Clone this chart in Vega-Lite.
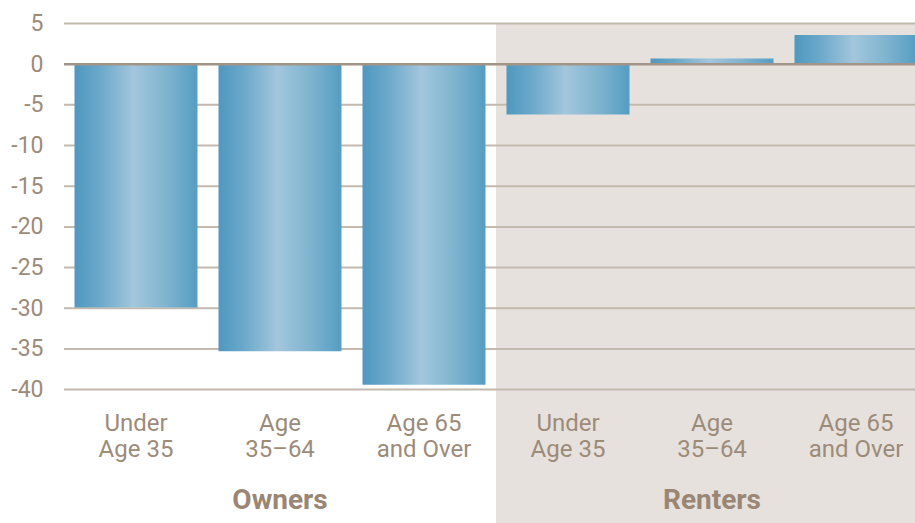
{
  "$schema": "https://vega.github.io/schema/vega-lite/v6.json",
  "width": 851,
  "height": 499.5,
  "autosize": {"type": "none"},
  "padding": {"left": 64, "top": 23.5, "right": 0, "bottom": 0},
  "background": "white",
  "config": {
    "view": {"stroke": null},
    "font": "Roboto"
  },
  "layer": [
    {
      "data": {"values": [{"tenure": "Owners"}, {"tenure": "Renters"}]},
      "mark": {"type": "rect", "clip": true},
      "encoding": {
        "x": {
          "field": "tenure",
          "type": "nominal",
          "sort": null,
          "scale": {"range": [0, 864], "paddingInner": 0, "paddingOuter": 0},
          "axis": {
            "orient": "bottom",
            "title": null,
            "domain": false,
            "ticks": false,
            "zindex": 1,
            "offset": -15,
            "labelPadding": 0,
            "labelBaseline": "alphabetic",
            "labelAngle": 0,
            "labelFontSize": 28,
            "labelFontWeight": "bold",
            "labelColor": "#9a8675",
            "labelFont": "Roboto"
          }
        },
        "y": {"datum": 5, "type": "quantitative"},
        "y2": {"datum": -56.4},
        "color": {
          "condition": {"test": "datum.tenure === 'Renters'", "value": "#e6e1dc"},
          "value": "#ffffff"
        }
      }
    },
    {
      "data": {"values": [{"v": 5}, {"v": -5}, {"v": -10}, {"v": -15}, {"v": -20}, {"v": -25}, {"v": -30}, {"v": -35}, {"v": -40}]},
      "mark": {"type": "rule", "strokeWidth": 2, "color": "#c3b9ae"},
      "encoding": {
        "y": {"field": "v", "type": "quantitative"}
      }
    },
    {
      "data": {
        "values": [
          {"tenure": "Owners", "age": "Under Age 35", "change": -29.9},
          {"tenure": "Owners", "age": "Age 35–64", "change": -35.3},
          {"tenure": "Owners", "age": "Age 65 and Over", "change": -39.4},
          {"tenure": "Renters", "age": "Under Age 35", "change": -6.2},
          {"tenure": "Renters", "age": "Age 35–64", "change": 0.7},
          {"tenure": "Renters", "age": "Age 65 and Over", "change": 3.6}
        ]
      },
      "transform": [{"calculate": "datum.tenure + ' ' + datum.age", "as": "key"}],
      "mark": {
        "type": "bar",
        "clip": true,
        "width": {"band": 0.854},
        "color": {
          "gradient": "linear",
          "x1": 0, "x2": 1, "y1": 0, "y2": 0,
          "stops": [
            {"offset": 0, "color": "#4f98bf"},
            {"offset": 0.2, "color": "#6aa8ca"},
            {"offset": 0.48, "color": "#a3c6dc"},
            {"offset": 0.75, "color": "#7fb3d0"},
            {"offset": 1, "color": "#559dc2"}
          ]
        }
      },
      "encoding": {
        "x": {
          "field": "key",
          "type": "nominal",
          "sort": null,
          "scale": {"range": [0, 864], "paddingInner": 0, "paddingOuter": 0},
          "axis": {
            "orient": "bottom",
            "title": null,
            "domain": false,
            "ticks": false,
            "zindex": 1,
            "offset": -93,
            "labelPadding": 0,
            "labelBaseline": "alphabetic",
            "labelAngle": 0,
            "labelFontSize": 24,
            "labelLineHeight": 26,
            "labelColor": "#9d8b7a",
            "labelFont": "Roboto",
            "labelExpr": "indexof(datum.value, 'Under') >= 0 ? ['Under', 'Age 35'] : (indexof(datum.value, '35–64') >= 0 ? ['Age', '35–64'] : ['Age 65', 'and Over'])"
          }
        },
        "y": {
          "field": "change",
          "type": "quantitative",
          "scale": {"domain": [-56.4, 5], "nice": false, "zero": false},
          "axis": {
            "title": null,
            "values": [5, 0, -5, -10, -15, -20, -25, -30, -35, -40],
            "grid": false,
            "domain": false,
            "ticks": false,
            "zindex": 1,
            "labelPadding": 21,
            "labelFontSize": 23,
            "labelColor": "#9d8b7a",
            "labelFont": "Roboto",
            "labelExpr": "replace(datum.label, '−', '-')"
          }
        }
      }
    },
    {
      "data": {"values": [{"v": 0}]},
      "mark": {"type": "rule", "strokeWidth": 2.5, "color": "#a39488"},
      "encoding": {
        "y": {"field": "v", "type": "quantitative"}
      }
    }
  ],
  "resolve": {"scale": {"x": "independent"}, "axis": {"x": "independent"}}
}
